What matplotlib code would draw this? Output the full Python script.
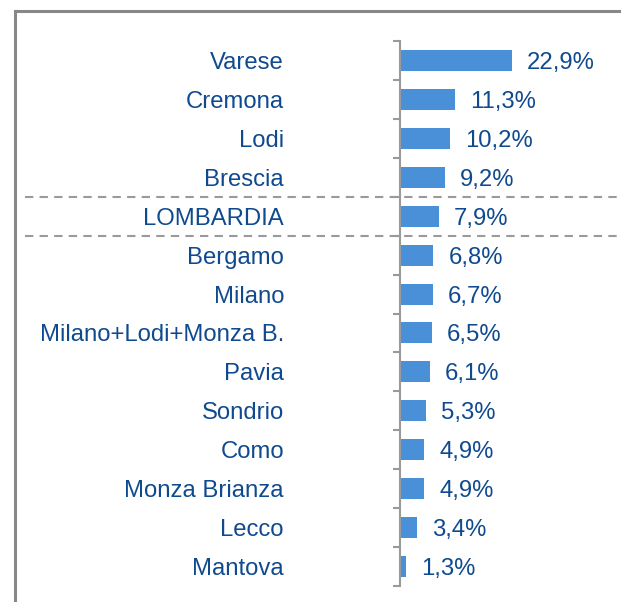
import matplotlib
matplotlib.use("Agg")
import matplotlib.pyplot as plt
from matplotlib.lines import Line2D

categories = ["Varese", "Cremona", "Lodi", "Brescia", "LOMBARDIA", "Bergamo", "Milano",
              "Milano+Lodi+Monza B.", "Pavia", "Sondrio", "Como", "Monza Brianza", "Lecco", "Mantova"]
values = [22.9, 11.3, 10.2, 9.2, 7.9, 6.8, 6.7, 6.5, 6.1, 5.3, 4.9, 4.9, 3.4, 1.3]
value_labels = ["22,9%", "11,3%", "10,2%", "9,2%", "7,9%", "6,8%", "6,7%", "6,5%", "6,1%",
                "5,3%", "4,9%", "4,9%", "3,4%", "1,3%"]

plt.rcParams['font.family'] = ['Liberation Sans', 'DejaVu Sans']
W, H = 621, 602
fig = plt.figure(figsize=(W / 100, H / 100), dpi=100)

TEXT = '#0f4a8f'
BAR = '#4a90d9'
GREY = '#9a9a9a'
FS = 17.2

ax_left, ax_right = 400, 621
ax_top, ax_bot = 41, 586
ax = fig.add_axes([ax_left / W, 1 - ax_bot / H, (ax_right - ax_left) / W, (ax_bot - ax_top) / H])

n = len(categories)
ypos = list(range(n))
ax.barh(ypos, values, height=0.54, color=BAR)
ax.set_ylim(n - 0.5, -0.5)
ax.set_xlim(0, (ax_right - ax_left) / 4.88)

for s in ['top', 'right', 'bottom']:
    ax.spines[s].set_visible(False)
ax.spines['left'].set_color(GREY)
ax.spines['left'].set_linewidth(1.5)
ax.set_xticks([])
ax.set_yticks(ypos)
ax.set_yticklabels(categories, fontsize=FS, color=TEXT)
ax.tick_params(axis='y', which='major', length=0, pad=(ax_left - 284) * 0.72)
ax.set_yticks([i - 0.5 for i in range(n + 1)], minor=True)
ax.tick_params(axis='y', which='minor', length=5, width=1.5, color=GREY)

for v, lab, y in zip(values, value_labels, ypos):
    ax.annotate(lab, (v, y), xytext=(11, 0), textcoords='offset points',
                ha='left', va='center_baseline', fontsize=FS, color=TEXT)

# dashed separators around LOMBARDIA
for yb in [3.5, 4.5]:
    yf = 1 - (ax_top + (yb + 0.5) * (ax_bot - ax_top) / n) / H
    fig.add_artist(Line2D([25 / W, 1], [yf, yf], color=GREY, lw=1.5, ls=(0, (4, 3))))

# frame
fig.add_artist(Line2D([15 / W, 15 / W], [0, 1 - 11 / H], color='#888888', lw=2.2))
fig.add_artist(Line2D([15 / W, 1], [1 - 11 / H, 1 - 11 / H], color='#888888', lw=2.2))

fig.savefig('out.png', dpi=100)
